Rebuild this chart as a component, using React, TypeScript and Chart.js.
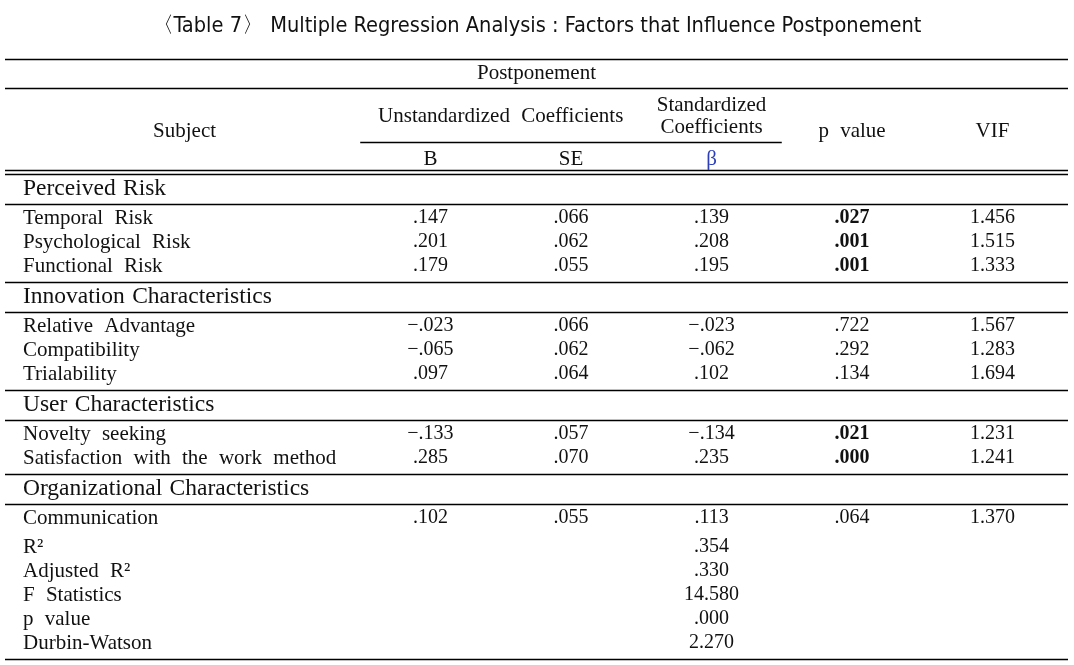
import { useEffect, useRef } from "react";
import { Chart, registerables } from "chart.js";

Chart.register(...registerables);

// ---------- data ----------
const TITLE = "〈Table 7〉 Multiple Regression Analysis : Factors that Influence Postponement";
const GROUP_HEADER = "Postponement";
const SUBJECT_HEADER = "Subject";
const UNSTD_HEADER = "Unstandardized Coefficients";
const STD_HEADER = ["Standardized", "Coefficients"];
const COLUMN_LABELS = ["B", "SE", "β", "p value", "VIF"];

const CATEGORIES = [
  "Perceived Risk",
  "Innovation Characteristics",
  "User Characteristics",
  "Organizational Characteristics",
];
const SUBJECTS = [
  "Temporal Risk",
  "Psychological Risk",
  "Functional Risk",
  "Relative Advantage",
  "Compatibility",
  "Trialability",
  "Novelty seeking",
  "Satisfaction with the work method",
  "Communication",
];
const SUBJECT_CATEGORY = [0, 0, 0, 1, 1, 1, 2, 2, 3];
const B_VALUES = [0.147, 0.201, 0.179, -0.023, -0.065, 0.097, -0.133, 0.285, 0.102];
const SE_VALUES = [0.066, 0.062, 0.055, 0.066, 0.062, 0.064, 0.057, 0.07, 0.055];
const BETA_VALUES = [0.139, 0.208, 0.195, -0.023, -0.062, 0.102, -0.134, 0.235, 0.113];
const P_VALUES = [0.027, 0.001, 0.001, 0.722, 0.292, 0.134, 0.021, 0.0, 0.064];
const VIF_VALUES = [1.456, 1.515, 1.333, 1.567, 1.283, 1.694, 1.231, 1.241, 1.37];
const FIT_LABELS = ["R²", "Adjusted R²", "F Statistics", "p value", "Durbin-Watson"];
const FIT_VALUES = [0.354, 0.33, 14.58, 0.0, 2.27];
const SIG_LEVEL = 0.05;

// ---------- layout / style ----------
const X_MIN = -2.028;
const X_MAX = 5.537;
const SUBJECT_COL = -0.75;
const HEAD_H = 29;
const COLHEAD_H = 82;
const DOUBLE_GAP = 3.5;
const CAT_H = 30;
const ROW_H = 24;
const ROW_PAD = 14.5;
const FIT_GAP = 5;
const SERIF = "'Liberation Serif', 'DejaVu Serif', serif";
const SANS = "'Liberation Sans Narrow', 'DejaVu Sans Condensed', 'Liberation Sans', sans-serif";
const TEXT_FONT = `21px ${SERIF}`;
const NUM_FONT = `20px ${SERIF}`;
const BOLD_FONT = `bold 20px ${SERIF}`;
const CAT_FONT = `23.5px ${SERIF}`;
const TEXT_WS = "6px";
const CAT_WS = "1.5px";
const INK = "#111";
const BETA_COLOR = "#2c3fb8";

function fmt(v: number): string {
  const s = Math.abs(v).toFixed(3);
  const t = s.startsWith("0.") ? s.slice(1) : s;
  return (v < 0 ? "−" : "") + t;
}

type Txt = {
  text: string;
  x: number | "left";
  y: number;
  font: string;
  color?: string;
  align?: CanvasTextAlign;
  ws?: string;
};
type Rule = { y: number; x0?: number; x1?: number };

function buildLayout() {
  const texts: Txt[] = [];
  const rules: Rule[] = [];
  let y = 0;
  rules.push({ y });
  texts.push({ text: GROUP_HEADER, x: (X_MIN + X_MAX) / 2, y: y + HEAD_H / 2, font: TEXT_FONT });
  y += HEAD_H;
  rules.push({ y });
  texts.push({ text: UNSTD_HEADER, x: 1.5, y: y + 28, font: TEXT_FONT });
  texts.push({ text: STD_HEADER[0], x: 3, y: y + 17, font: TEXT_FONT });
  texts.push({ text: STD_HEADER[1], x: 3, y: y + 39, font: TEXT_FONT });
  texts.push({ text: SUBJECT_HEADER, x: SUBJECT_COL, y: y + 43, font: TEXT_FONT });
  texts.push({ text: COLUMN_LABELS[3], x: 4, y: y + 43, font: TEXT_FONT });
  texts.push({ text: COLUMN_LABELS[4], x: 5, y: y + 43, font: TEXT_FONT });
  rules.push({ y: y + 54, x0: 0.5, x1: 3.5 });
  texts.push({ text: COLUMN_LABELS[0], x: 1, y: y + 71, font: TEXT_FONT });
  texts.push({ text: COLUMN_LABELS[1], x: 2, y: y + 71, font: TEXT_FONT });
  texts.push({ text: COLUMN_LABELS[2], x: 3, y: y + 71, font: TEXT_FONT, color: BETA_COLOR });
  y += COLHEAD_H;
  rules.push({ y });
  y += DOUBLE_GAP;
  rules.push({ y });

  CATEGORIES.forEach((cat, c) => {
    texts.push({ text: cat, x: "left", y: y + CAT_H / 2, font: CAT_FONT, align: "left", ws: CAT_WS });
    y += CAT_H;
    rules.push({ y });
    const rows = SUBJECTS.map((_, i) => i).filter((i) => SUBJECT_CATEGORY[i] === c);
    let ry = y + ROW_PAD;
    rows.forEach((i) => {
      texts.push({ text: SUBJECTS[i], x: "left", y: ry, font: TEXT_FONT, align: "left" });
      texts.push({ text: fmt(B_VALUES[i]), x: 1, y: ry, font: NUM_FONT });
      texts.push({ text: fmt(SE_VALUES[i]), x: 2, y: ry, font: NUM_FONT });
      texts.push({ text: fmt(BETA_VALUES[i]), x: 3, y: ry, font: NUM_FONT });
      texts.push({ text: fmt(P_VALUES[i]), x: 4, y: ry, font: P_VALUES[i] < SIG_LEVEL ? BOLD_FONT : NUM_FONT });
      texts.push({ text: fmt(VIF_VALUES[i]), x: 5, y: ry, font: NUM_FONT });
      ry += ROW_H;
    });
    if (c === CATEGORIES.length - 1) {
      ry += FIT_GAP;
      FIT_LABELS.forEach((lab, k) => {
        texts.push({ text: lab, x: "left", y: ry, font: TEXT_FONT, align: "left" });
        texts.push({ text: fmt(FIT_VALUES[k]), x: 3, y: ry, font: NUM_FONT });
        ry += ROW_H;
      });
    }
    y = ry - ROW_H + ROW_PAD + 1;
    rules.push({ y });
  });
  return { texts, rules, total: y };
}

const LAYOUT = buildLayout();

const tablePlugin = {
  id: "tableDraw",
  afterDraw(chart: any) {
    const { ctx, chartArea, scales } = chart;
    const xs = scales.x;
    const ys = scales.y;
    ctx.save();
    ctx.strokeStyle = "#000";
    ctx.lineWidth = 1.3;
    LAYOUT.rules.forEach((r) => {
      const py = Math.round(ys.getPixelForValue(r.y)) + 0.5;
      const x0 = r.x0 === undefined ? chartArea.left : xs.getPixelForValue(r.x0);
      const x1 = r.x1 === undefined ? chartArea.right : xs.getPixelForValue(r.x1);
      ctx.beginPath();
      ctx.moveTo(x0, py);
      ctx.lineTo(x1, py);
      ctx.stroke();
    });
    ctx.textBaseline = "middle";
    LAYOUT.texts.forEach((t) => {
      ctx.font = t.font;
      try {
        (ctx as any).wordSpacing = t.ws || TEXT_WS;
      } catch (e) {}
      ctx.fillStyle = t.color || INK;
      ctx.textAlign = t.align || "center";
      const px = t.x === "left" ? chartArea.left + 18 : xs.getPixelForValue(t.x);
      ctx.fillText(t.text, px, ys.getPixelForValue(t.y));
    });
    ctx.restore();
  },
};

export default function App() {
  const ref = useRef<HTMLCanvasElement | null>(null);
  useEffect(() => {
    document.body.style.margin = "0";
    if (!ref.current) return;
    const chart = new Chart(ref.current, {
      type: "scatter",
      data: { datasets: [] },
      options: {
        responsive: false,
        animation: false,
        events: [],
        layout: { padding: { left: 5, right: 6, top: 0, bottom: 665 - 59 - LAYOUT.total } },
        scales: {
          x: { type: "linear", min: X_MIN, max: X_MAX, display: false },
          y: { type: "linear", min: 0, max: LAYOUT.total, reverse: true, display: false },
        },
        plugins: {
          legend: { display: false },
          tooltip: { enabled: false },
          title: {
            display: true,
            text: TITLE,
            color: "#111",
            font: { family: SANS, size: 21.6, weight: "normal", lineHeight: 1.2 },
            padding: { top: 13, bottom: 20.1 },
          },
        },
      },
      plugins: [tablePlugin],
    });
    return () => chart.destroy();
  }, []);
  return (
    <div style={{ position: "absolute", left: 0, top: 0, width: 1074, height: 665, background: "#fff" }}>
      <canvas ref={ref} width={1074} height={665} style={{ display: "block" }} />
    </div>
  );
}
